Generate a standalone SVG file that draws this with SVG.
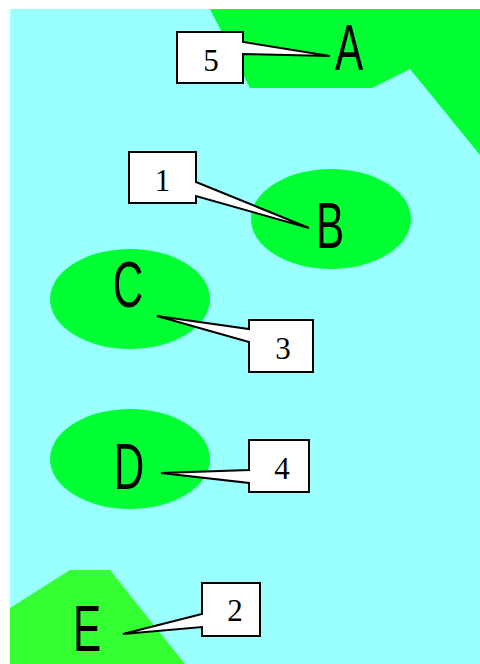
<svg xmlns="http://www.w3.org/2000/svg" width="480" height="664" viewBox="0 0 480 664">
<style>
.bg{fill:#99ffff}
.reg{fill:#00ff33}
.reg2{fill:#33ff33}
.lbl{font-family:"Liberation Sans",Arial,sans-serif;font-size:64px;fill:#000;text-anchor:middle}
.co{fill:#fff;stroke:#000;stroke-width:2;stroke-linejoin:miter}
.num{font-family:"Liberation Serif","Times New Roman",serif;font-size:31px;fill:#000;text-anchor:middle}
</style>
<rect class="bg" x="10" y="9" width="470" height="655"/>
<g id="A">
<polygon class="reg" points="210,9 250,88 372,88 410,69 480,155 480,9"/>
<text class="lbl" transform="translate(349,70) scale(0.66,1)">A</text>
</g>
<g id="B">
<ellipse class="reg" cx="331" cy="219" rx="80" ry="50"/>
<text class="lbl" transform="translate(330,248) scale(0.66,1)">B</text>
</g>
<g id="C">
<ellipse class="reg" cx="130" cy="299" rx="80" ry="50"/>
<text class="lbl" transform="translate(128,307) scale(0.66,1)">C</text>
</g>
<g id="D">
<ellipse class="reg" cx="130" cy="459" rx="80" ry="50"/>
<text class="lbl" transform="translate(129,489) scale(0.66,1)">D</text>
</g>
<g id="E">
<polygon class="reg2" points="10,608 70,570 110,570 185,664 10,664"/>
<text class="lbl" transform="translate(87,651) scale(0.66,1)">E</text>
</g>
<g id="connectors">
<g id="callout5">
<path class="co" d="M177,32 H243 V42 L330,56 L243,54 V83 H177 Z"/>
<text class="num" x="211" y="71">5</text>
</g>
<g id="callout1">
<path class="co" d="M129,152 H196 V182 L309,228 L196,196 V203 H129 Z"/>
<text class="num" x="162.5" y="191">1</text>
</g>
<g id="callout3">
<path class="co" d="M249,320 H313 V372 H249 V342 L157,316 L249,329 Z"/>
<text class="num" x="283" y="359">3</text>
</g>
<g id="callout4">
<path class="co" d="M249,440 H309 V492 H249 V483 L161,473 L249,470 Z"/>
<text class="num" x="282" y="479">4</text>
</g>
<g id="callout2">
<path class="co" d="M202,583 H260 V636 H202 V627 L123,634 L202,614 Z"/>
<text class="num" x="235" y="621">2</text>
</g>
</g>
</svg>
